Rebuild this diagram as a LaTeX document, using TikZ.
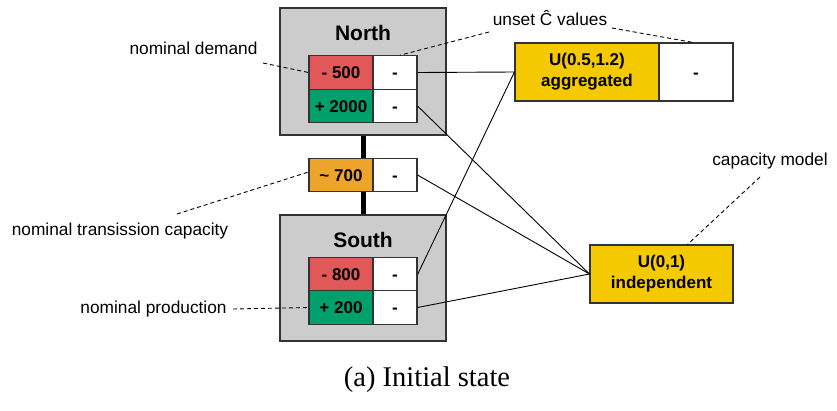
\documentclass[tikz,border=0pt]{standalone}
\usepackage{fontspec}
\setmainfont{Liberation Serif}
\newfontfamily\lsans{Liberation Sans}
\definecolor{regfill}{HTML}{CCCCCC}
\definecolor{demred}{HTML}{E05858}
\definecolor{prodgreen}{HTML}{00A06C}
\definecolor{transorange}{HTML}{ECA52A}
\definecolor{modelyellow}{HTML}{F5C900}
\definecolor{edge}{HTML}{333333}
\tikzset{
  region/.style={draw=edge, line width=1.2, fill=regfill, inner sep=0, minimum width=166, minimum height=127},
  regtitle/.style={font=\lsans\bfseries\fontsize{21}{25}\selectfont, inner sep=0},
  cell/.style={draw=edge, line width=1.1, inner sep=0, minimum height=33.5, text height=12, text depth=0, font=\lsans\bfseries\fontsize{17}{20}\selectfont},
  valcell/.style={cell, minimum width=64},
  unset/.style={cell, fill=white, minimum width=44},
  model/.style={draw=edge, line width=1.1, fill=modelyellow, inner sep=0, minimum height=58, align=center, font=\lsans\bfseries\fontsize{17}{21}\selectfont},
  note/.style={font=\lsans\fontsize{17.3}{20}\selectfont, inner sep=0},
  conn/.style={line width=0.9, black},
  ann/.style={line width=0.9, black, dash pattern=on 4pt off 3pt},
  link/.style={line width=5, black}
}
\begin{document}
\begin{tikzpicture}[x=1pt,y=-1pt]
\useasboundingbox (0,0) rectangle (837,410);
% regions
\node[region] (north) at (363,71.5) {};
\node[region, minimum height=126] (south) at (363,278) {};
\node[regtitle] (ntitle) at (363,33) {North};
\node[regtitle] (stitle) at (363,239.5) {South};
% cells
\node[valcell, fill=demred] (nd) at (341,72.5) {- 500};
\node[unset] (ndu) at (395,72.5) {-};
\node[valcell, fill=prodgreen] (np) at (341,106) {+ 2000};
\node[unset] (npu) at (395,106) {-};
\node[valcell, fill=transorange] (tc) at (341,175) {\textasciitilde{} 700};
\node[unset] (tcu) at (395,175) {-};
\node[valcell, fill=demred] (sd) at (341,274.5) {- 800};
\node[unset] (sdu) at (395,274.5) {-};
\node[valcell, fill=prodgreen] (sp) at (341,307.5) {+ 200};
\node[unset] (spu) at (395,307.5) {-};
% thick links
\draw[link] (north.south) -- (north.south |- tc.north);
\draw[link] (north.south |- tc.south) -- (south.north);
% models
\node[model, minimum width=144] (agg) at (587,72) {U(0.5,1.2)\\aggregated};
\node[cell, fill=white, minimum width=74, minimum height=58] (aggu) at (696,72) {-};
\node[model, minimum width=143] (ind) at (661.5,274) {U(0,1)\\independent};
% connectors
\draw[conn] (ndu.east) -- (agg.west);
\draw[conn] (sdu.east) -- (agg.west);
\draw[conn] (npu.east) -- (ind.west);
\draw[conn] (tcu.east) -- (ind.west);
\draw[conn] (spu.east) -- (ind.west);
% annotations
\node[note] (lnd) at (193.5,48) {nominal demand};
\node[note] (ltc) at (120,231) {nominal transission capacity};
\node[note] (lnp) at (153.5,309) {nominal production};
\node[note] (lun) at (550,18) {unset \^{C} values};
\node[note] (lcm) at (770,161) {capacity model};
\coordinate (and) at (263,63);
\coordinate (atc) at (177,214);
\coordinate (anp) at (233,309);
\coordinate (aun1) at (489,32);
\coordinate (aun2) at (612,28);
\coordinate (acm) at (760,177);
\draw[ann] (and) -- (nd.west);
\draw[ann] (atc) -- ([yshift=3pt]tc.west);
\draw[ann] (anp) -- (sp.west);
\draw[ann] (aun1) -- ([xshift=5pt]ndu.north);
\draw[ann] (aun2) -- ([xshift=-3pt]aggu.north);
\draw[ann] (acm) -- ([xshift=26pt]ind.north);
% caption
\node[font=\fontsize{28.5}{34}\selectfont, inner sep=0] (cap) at (427,380) {(a) Initial state};
\end{tikzpicture}
\end{document}
